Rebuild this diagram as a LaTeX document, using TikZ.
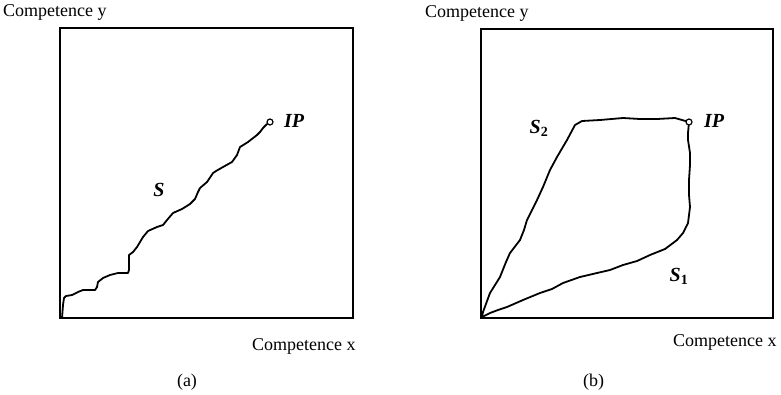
\documentclass[tikz,border=0pt]{standalone}
\usepackage{fontspec}
\setmainfont{Liberation Serif}
\usetikzlibrary{positioning}

\begin{document}
\begin{tikzpicture}[x=1pt, y=-1pt,
  font=\fontsize{18}{21}\selectfont,
  frame/.style={draw, line width=1.4pt, inner sep=0pt},
  trail/.style={line width=1.8pt, line join=round, line cap=round},
  endpt/.style={draw, circle, line width=1.2pt, minimum size=6pt, inner sep=0pt},
  axlabel/.style={anchor=base west, inner sep=0pt},
  caption/.style={anchor=base, inner sep=0pt},
  tag/.style={font=\fontsize{20}{22}\selectfont\bfseries\itshape, inner sep=0pt}]
\useasboundingbox (0,0) rectangle (781,394);
% panel (a)
\node[frame, minimum width=293pt, minimum height=290pt] (boxa) at (206.5,173) {};
\node[axlabel] (ya) at (3,16) {Competence y};
\node[axlabel] (xa) at (252,350) {Competence x};
\node[caption] (capa) at (187,386) {(a)};
\node[endpt] (ipa) at (270,122) {};
\node[tag] (ipla) at (294,121) {IP};
\node[tag] (sa) at (159,190) {S};
\coordinate (oa) at (62,318);
\draw[trail] (oa) -- (63,305) -- (64,298) -- (66,296) -- (72,295) -- (78,292) -- (83,290)
  -- (95,290) -- (97,287) -- (98,282) -- (103,278) -- (110,275) -- (118,273) -- (128,273)
  -- (129,270) -- (129,255) -- (133,252) -- (137,247) -- (140,242) -- (143,237) -- (148,231)
  -- (157,227) -- (163,225) -- (167,220) -- (173,213) -- (182,209) -- (190,204) -- (195,199)
  -- (198,192) -- (200,188) -- (207,182) -- (213,173) -- (216,171) -- (223,167) -- (232,162)
  -- (237,155) -- (240,147) -- (248,142) -- (257,135) -- (260,132) -- (263,128) -- (267,124)
  -- (ipa);
% panel (b)
\node[frame, minimum width=292pt, minimum height=289pt] (boxb) at (627,173.5) {};
\node[axlabel] (yb) at (425,17) {Competence y};
\node[axlabel] (xb) at (673,346) {Competence x};
\node[caption] (capb) at (593.5,386) {(b)};
\node[endpt] (ipb) at (689,122) {};
\node[tag] (iplb) at (714,121) {IP};
\node[tag] (s2) at (539,128) {S\textsubscript{\upshape 2}};
\node[tag] (s1) at (679,276) {S\textsubscript{\upshape 1}};
\coordinate (ob) at (482,317);
\draw[trail] (ob) -- (483,312) -- (490,293) -- (500,277) -- (506,262) -- (510,253) -- (520,240)
  -- (524,230) -- (527,220) -- (537,200) -- (543,187) -- (550,170) -- (557,157) -- (567,140)
  -- (575,125) -- (582,121) -- (600,120) -- (623,118) -- (640,119) -- (657,119) -- (675,118)
  -- (ipb);
\draw[trail] (ob) -- (490,313) -- (498,310) -- (507,307) -- (523,300) -- (540,293) -- (552,289)
  -- (563,283) -- (580,277) -- (597,273) -- (610,270) -- (623,265) -- (637,261) -- (650,255)
  -- (665,249) -- (677,240) -- (683,233) -- (688,223) -- (690,207) -- (689,195) -- (689,180)
  -- (690,165) -- (690,153) -- (688,140) -- (688,133) -- (ipb);
\end{tikzpicture}
\end{document}
